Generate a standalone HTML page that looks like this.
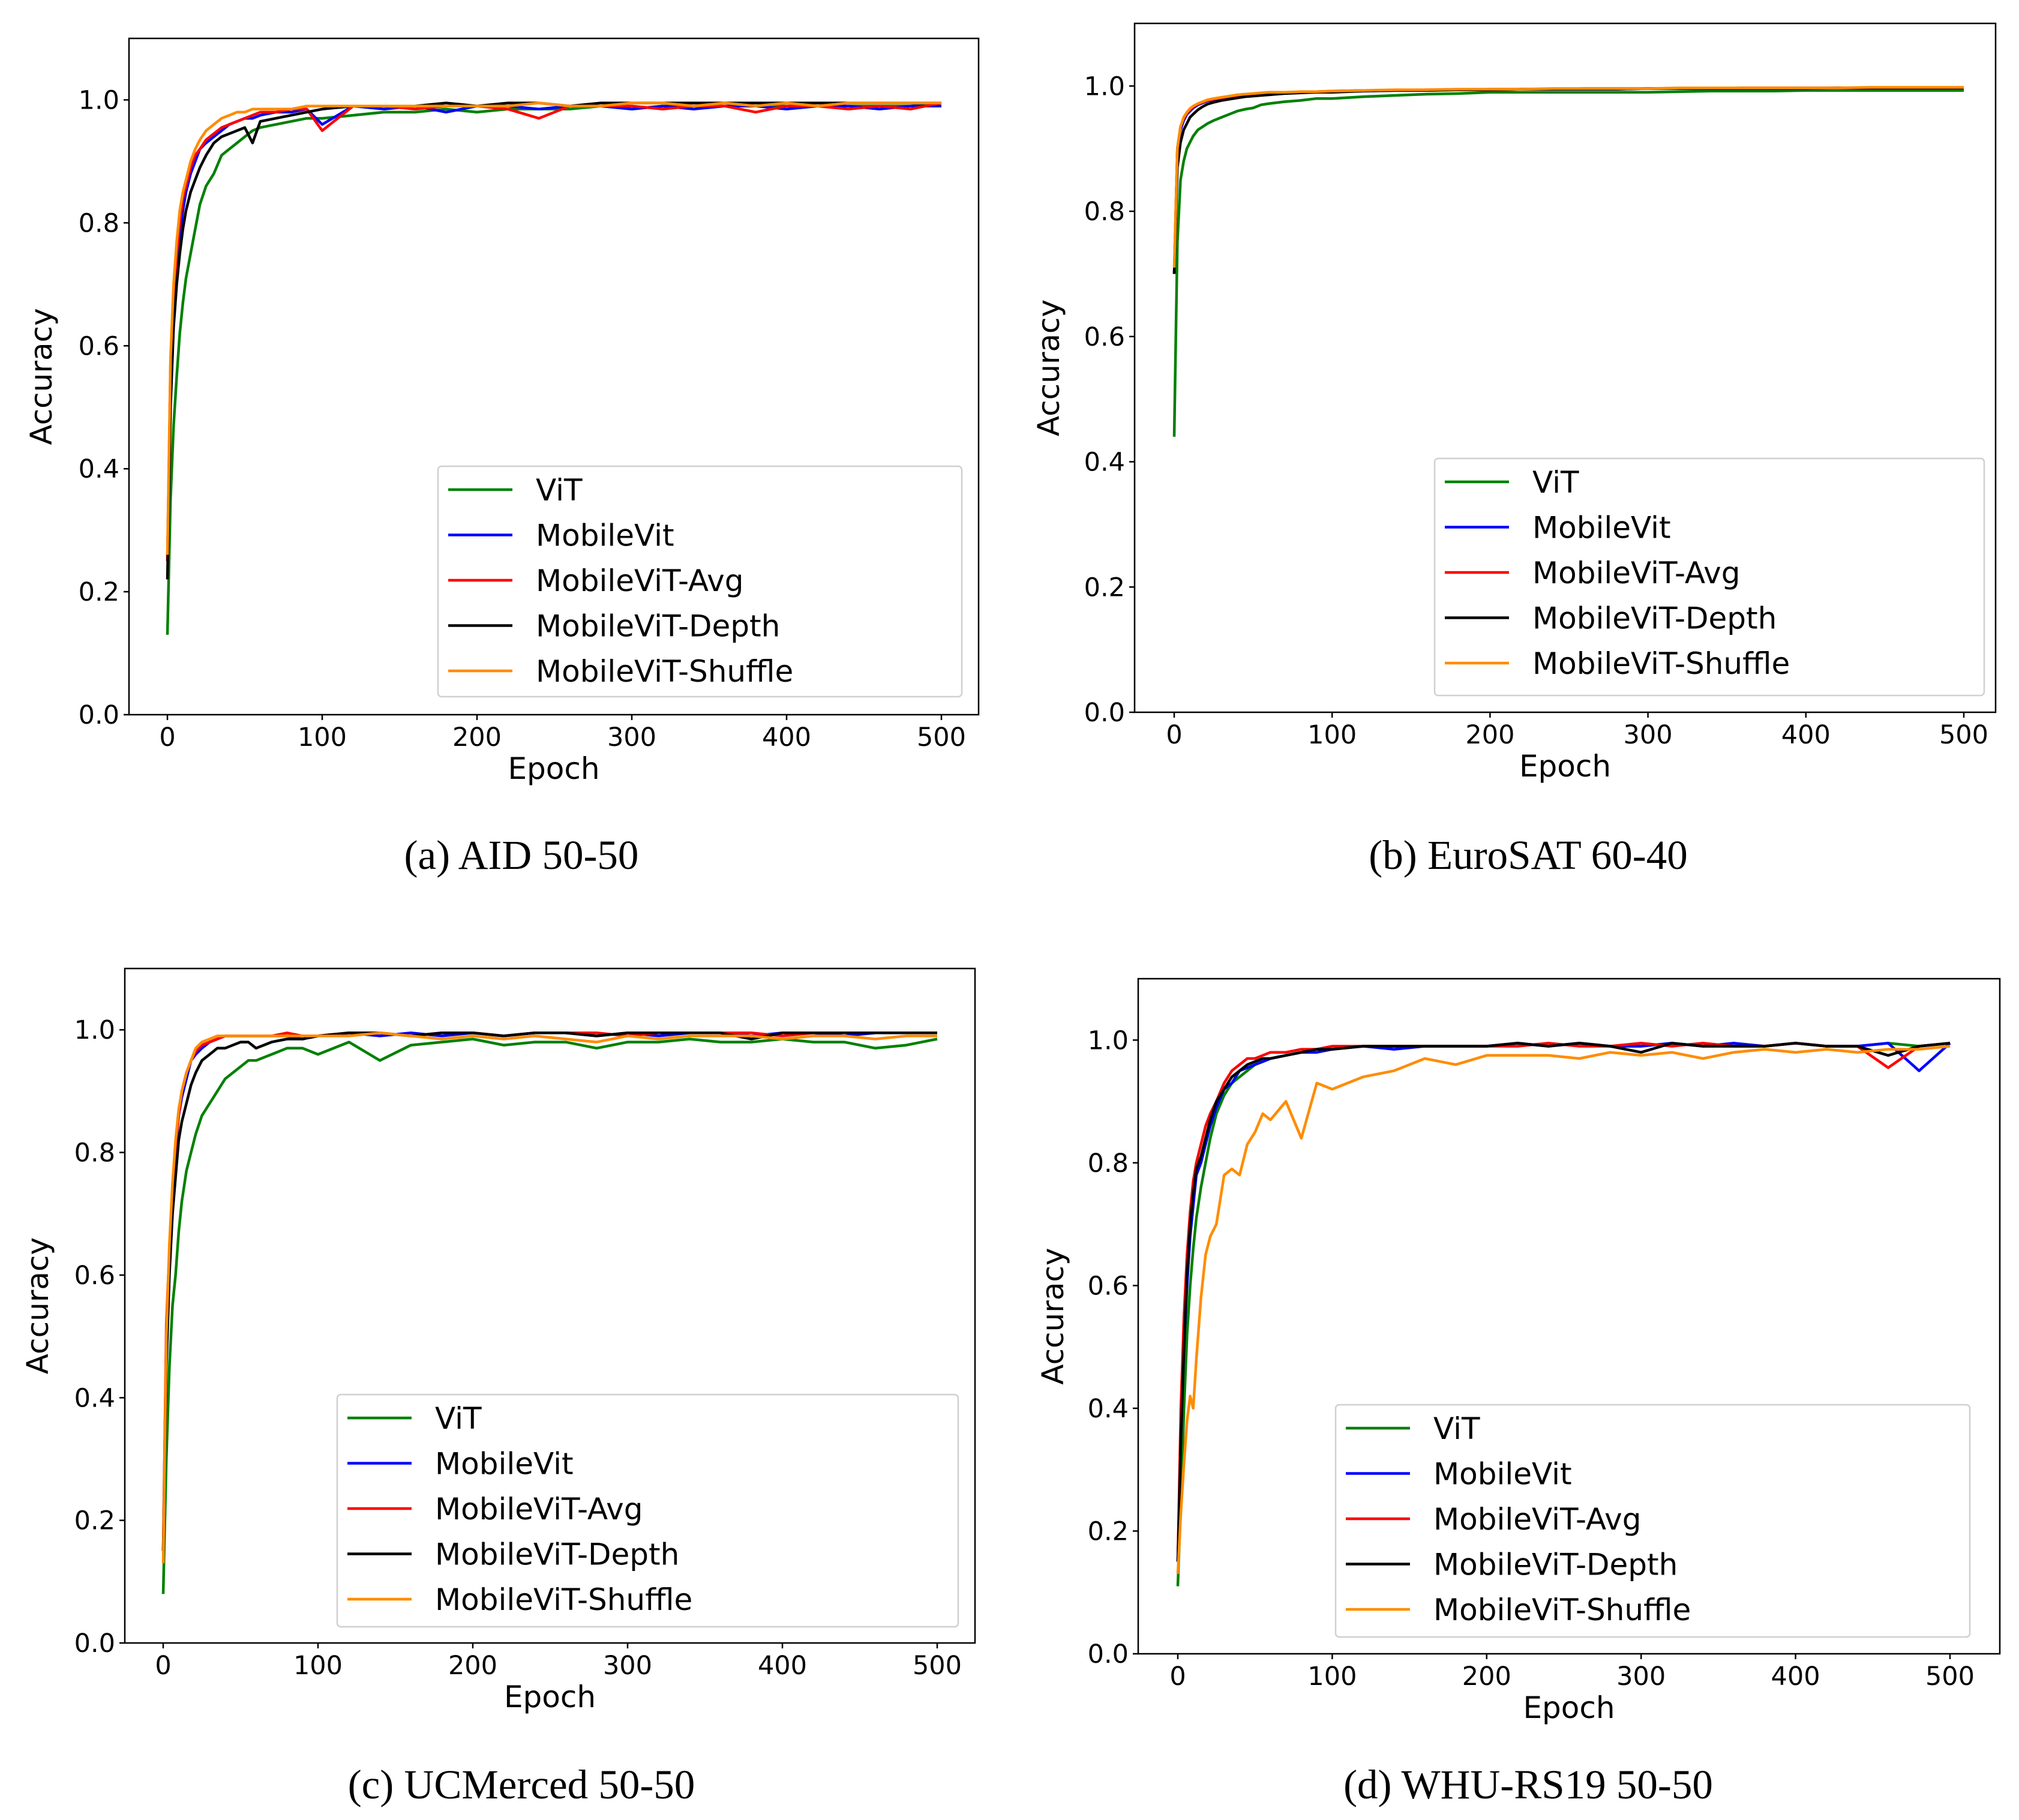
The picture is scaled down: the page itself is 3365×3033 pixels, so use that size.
<!DOCTYPE html>
<html><head><meta charset="utf-8"><style>
html,body{margin:0;padding:0;background:#fff;}
svg{display:block;}
</style></head><body>
<svg id="fig" width="3365" height="3033" viewBox="0 0 3365 3033" xmlns="http://www.w3.org/2000/svg"></svg>
<script>
const epochs = [0,2,4,6,8,10,12,15,18,21,25,30,35,40,45,50,55,60,70,80,90,100,120,140,160,180,200,220,240,260,280,300,320,340,360,380,400,420,440,460,480,500];
const seriesNames = ["ViT","MobileVit","MobileViT-Avg","MobileViT-Depth","MobileViT-Shuffle"];
const xTicks = [0,100,200,300,400,500];
const yTicks = [0.0,0.2,0.4,0.6,0.8,1.0];
const yTickLabels = ["0.0","0.2","0.4","0.6","0.8","1.0"];
const captions = ["(a)  AID 50-50","(b)  EuroSAT 60-40","(c)  UCMerced 50-50","(d)  WHU-RS19 50-50"];

const aVit = [0.13,0.35,0.47,0.55,0.62,0.67,0.71,0.75,0.79,0.83,0.86,0.88,0.91,0.92,0.93,0.94,0.95,0.955,0.96,0.965,0.97,0.97,0.975,0.98,0.98,0.985,0.98,0.985,0.985,0.985,0.99,0.985,0.99,0.99,0.99,0.99,0.99,0.99,0.99,0.99,0.99,0.995];
const aMob = [0.25,0.55,0.66,0.73,0.78,0.82,0.85,0.88,0.9,0.92,0.93,0.94,0.95,0.96,0.965,0.97,0.97,0.975,0.98,0.98,0.985,0.96,0.99,0.985,0.99,0.98,0.99,0.99,0.985,0.99,0.99,0.985,0.99,0.985,0.99,0.99,0.985,0.99,0.99,0.985,0.99,0.99];
const aAvg = [0.25,0.57,0.68,0.75,0.8,0.84,0.86,0.89,0.91,0.92,0.935,0.945,0.955,0.96,0.965,0.97,0.975,0.98,0.98,0.985,0.985,0.95,0.99,0.99,0.985,0.99,0.99,0.985,0.97,0.99,0.99,0.99,0.985,0.99,0.99,0.98,0.99,0.99,0.985,0.99,0.985,0.995];
const aDep = [0.22,0.5,0.63,0.7,0.75,0.79,0.82,0.85,0.87,0.89,0.91,0.93,0.94,0.945,0.95,0.955,0.93,0.965,0.97,0.975,0.98,0.985,0.99,0.99,0.99,0.995,0.99,0.995,0.995,0.99,0.995,0.995,0.995,0.995,0.995,0.995,0.995,0.995,0.995,0.995,0.995,0.995];
const aShu = [0.26,0.58,0.7,0.77,0.82,0.85,0.87,0.9,0.92,0.935,0.95,0.96,0.97,0.975,0.98,0.98,0.985,0.985,0.985,0.985,0.99,0.99,0.99,0.99,0.99,0.99,0.99,0.99,0.995,0.99,0.99,0.995,0.995,0.99,0.995,0.99,0.995,0.99,0.995,0.995,0.995,0.995];

const bVit = [0.44,0.75,0.85,0.88,0.9,0.91,0.92,0.93,0.935,0.94,0.945,0.95,0.955,0.96,0.963,0.965,0.97,0.972,0.975,0.977,0.98,0.98,0.983,0.985,0.987,0.988,0.99,0.99,0.99,0.99,0.99,0.99,0.991,0.992,0.992,0.992,0.993,0.993,0.993,0.993,0.993,0.993];
const bMob = [0.70,0.9,0.93,0.945,0.955,0.96,0.965,0.97,0.973,0.976,0.978,0.98,0.982,0.984,0.985,0.986,0.987,0.988,0.989,0.99,0.99,0.991,0.992,0.993,0.993,0.994,0.994,0.995,0.995,0.995,0.995,0.996,0.996,0.996,0.996,0.996,0.996,0.997,0.997,0.997,0.997,0.997];
const bAvg = [0.70,0.9,0.935,0.948,0.957,0.962,0.967,0.971,0.974,0.977,0.979,0.981,0.983,0.985,0.986,0.987,0.988,0.989,0.99,0.99,0.991,0.992,0.993,0.993,0.994,0.994,0.995,0.995,0.995,0.996,0.996,0.996,0.996,0.996,0.997,0.997,0.997,0.997,0.997,0.997,0.997,0.997];
const bDep = [0.70,0.87,0.91,0.93,0.94,0.95,0.955,0.962,0.967,0.971,0.974,0.977,0.979,0.981,0.983,0.984,0.985,0.986,0.988,0.989,0.99,0.99,0.992,0.993,0.993,0.994,0.994,0.995,0.995,0.995,0.995,0.996,0.996,0.996,0.996,0.996,0.996,0.997,0.997,0.997,0.997,0.997];
const bShu = [0.71,0.9,0.935,0.95,0.958,0.964,0.968,0.972,0.975,0.978,0.98,0.982,0.984,0.986,0.987,0.988,0.989,0.99,0.99,0.991,0.991,0.992,0.993,0.994,0.994,0.995,0.995,0.995,0.996,0.996,0.996,0.996,0.997,0.997,0.997,0.997,0.997,0.997,0.998,0.998,0.998,0.998];

const cVit = [0.08,0.3,0.45,0.55,0.6,0.67,0.72,0.77,0.8,0.83,0.86,0.88,0.9,0.92,0.93,0.94,0.95,0.95,0.96,0.97,0.97,0.96,0.98,0.95,0.975,0.98,0.985,0.975,0.98,0.98,0.97,0.98,0.98,0.985,0.98,0.98,0.985,0.98,0.98,0.97,0.975,0.985];
const cMob = [0.15,0.5,0.62,0.72,0.8,0.86,0.89,0.92,0.95,0.96,0.97,0.98,0.985,0.99,0.99,0.99,0.99,0.99,0.99,0.99,0.985,0.99,0.995,0.99,0.995,0.99,0.995,0.99,0.995,0.995,0.99,0.995,0.99,0.995,0.995,0.99,0.995,0.995,0.99,0.995,0.995,0.995];
const cAvg = [0.15,0.52,0.64,0.74,0.81,0.86,0.9,0.93,0.95,0.965,0.975,0.98,0.985,0.99,0.99,0.99,0.99,0.99,0.99,0.995,0.99,0.99,0.995,0.995,0.99,0.995,0.995,0.99,0.995,0.995,0.995,0.99,0.995,0.995,0.995,0.995,0.99,0.995,0.995,0.995,0.995,0.995];
const cDep = [0.15,0.45,0.6,0.7,0.76,0.82,0.85,0.88,0.91,0.93,0.95,0.96,0.97,0.97,0.975,0.98,0.98,0.97,0.98,0.985,0.985,0.99,0.995,0.995,0.99,0.995,0.995,0.99,0.995,0.995,0.99,0.995,0.995,0.995,0.995,0.985,0.995,0.995,0.995,0.995,0.995,0.995];
const cShu = [0.13,0.5,0.65,0.75,0.82,0.87,0.9,0.93,0.95,0.97,0.98,0.985,0.99,0.99,0.99,0.99,0.99,0.99,0.99,0.99,0.99,0.99,0.99,0.995,0.99,0.985,0.99,0.985,0.99,0.985,0.98,0.99,0.985,0.99,0.99,0.99,0.985,0.99,0.99,0.985,0.99,0.99];

const dVit = [0.11,0.25,0.4,0.52,0.6,0.66,0.71,0.76,0.8,0.84,0.88,0.91,0.93,0.94,0.95,0.96,0.965,0.97,0.975,0.98,0.985,0.985,0.99,0.99,0.99,0.99,0.99,0.995,0.99,0.995,0.99,0.99,0.995,0.99,0.99,0.99,0.995,0.99,0.99,0.995,0.99,0.995];
const dMob = [0.15,0.35,0.5,0.6,0.68,0.73,0.78,0.8,0.83,0.86,0.89,0.92,0.93,0.95,0.955,0.96,0.965,0.97,0.975,0.98,0.98,0.985,0.99,0.985,0.99,0.99,0.99,0.995,0.99,0.995,0.99,0.99,0.995,0.99,0.995,0.99,0.995,0.99,0.99,0.995,0.95,0.995];
const dAvg = [0.15,0.4,0.55,0.65,0.72,0.77,0.8,0.83,0.86,0.88,0.9,0.93,0.95,0.96,0.97,0.97,0.975,0.98,0.98,0.985,0.985,0.99,0.99,0.99,0.99,0.99,0.99,0.99,0.995,0.99,0.99,0.995,0.99,0.995,0.99,0.99,0.995,0.99,0.99,0.955,0.99,0.995];
const dDep = [0.15,0.35,0.5,0.62,0.7,0.75,0.79,0.81,0.84,0.87,0.9,0.92,0.94,0.95,0.96,0.965,0.97,0.97,0.975,0.98,0.985,0.985,0.99,0.99,0.99,0.99,0.99,0.995,0.99,0.995,0.99,0.98,0.995,0.99,0.99,0.99,0.995,0.99,0.99,0.975,0.99,0.995];
const dShu = [0.13,0.23,0.31,0.38,0.42,0.4,0.48,0.58,0.65,0.68,0.7,0.78,0.79,0.78,0.83,0.85,0.88,0.87,0.9,0.84,0.93,0.92,0.94,0.95,0.97,0.96,0.975,0.975,0.975,0.97,0.98,0.975,0.98,0.97,0.98,0.985,0.98,0.985,0.98,0.985,0.985,0.99];

const colors = ["#008000","#0000ff","#ff0000","#000000","#ff8c00"];
const panels = [
  {key:"a", series:[aVit,aMob,aAvg,aDep,aShu], box:[215,64,1631,1191], x0:279, x500:1569, leg:[730,777,1603,1161], ylab:86, cap:[869,1448]},
  {key:"b", series:[bVit,bMob,bAvg,bDep,bShu], box:[1891,39,3326,1187], x0:1957, x500:3273, leg:[2391,764,3307,1159], ylab:1765, cap:[2547,1448]},
  {key:"c", series:[cVit,cMob,cAvg,cDep,cShu], box:[208,1614,1625,2738], x0:272, x500:1562, leg:[562,2324,1597,2711], ylab:80, cap:[869,2997]},
  {key:"d", series:[dVit,dMob,dAvg,dDep,dShu], box:[1897,1631,3333,2756], x0:1963, x500:3250, leg:[2226,2341,3283,2728], ylab:1772, cap:[2547,2997]}
];
const NS = "http://www.w3.org/2000/svg";
const svg = document.getElementById("fig");
function mk(tag, attrs, parent){const e=document.createElementNS(NS,tag);for(const k in attrs)e.setAttribute(k,attrs[k]);(parent||svg).appendChild(e);return e;}
const SANS = '"DejaVu Sans","Liberation Sans",sans-serif';
panels.forEach(p=>{
  const [L,T,R,B]=p.box;
  const g=mk("g",{});
  
  
  const ymax=1.1;
  const xs=v=>p.x0+(v-0)*(p.x500-p.x0)/500;
  const ys=v=>B-v*(B-T)/ymax;
  p.series.forEach((arr,si)=>{
    let d="";
    arr.forEach((v,i)=>{d+=(i?"L":"M")+xs(epochs[i]).toFixed(1)+" "+ys(v).toFixed(1);});
    const path=mk("path",{d:d,fill:"none",stroke:colors[si],"stroke-width":4.5,"stroke-linejoin":"round"},g);
    
    
  });
  const frame=mk("rect",{x:L,y:T,width:R-L,height:B-T,fill:"none",stroke:"#000","stroke-width":2.5},g);
  
  
  xTicks.forEach(t=>{
    const x=xs(t);
    mk("line",{x1:x,y1:B,x2:x,y2:B+9,stroke:"#000","stroke-width":2.5},g);
    const tx=mk("text",{x:x,y:B+52,"font-size":43,"text-anchor":"middle","font-family":SANS},g);
    tx.textContent=String(t);
    
    
  });
  yTicks.forEach((t,i)=>{
    const y=ys(t);
    mk("line",{x1:L-9,y1:y,x2:L,y2:y,stroke:"#000","stroke-width":2.5},g);
    const ty=mk("text",{x:L-16,y:y+15,"font-size":43,"text-anchor":"end","font-family":SANS},g);
    ty.textContent=yTickLabels[i];
    
    
  });
  const xl=mk("text",{x:(L+R)/2,y:B+107,"font-size":50,"text-anchor":"middle","font-family":SANS},g);
  xl.textContent="Epoch";
  
  
  const ym=(T+B)/2;
  const yl=mk("text",{x:p.ylab,y:ym,"font-size":50,"text-anchor":"middle","font-family":SANS,transform:"rotate(-90 "+p.ylab+" "+ym+")"},g);
  yl.textContent="Accuracy";
  
  
  const [lx,ly,lr,lb]=p.leg;
  const lg=mk("g",{},g);
  
  
  mk("rect",{x:lx,y:ly,width:lr-lx,height:lb-ly,rx:6,fill:"#fff","fill-opacity":0.8,stroke:"#d0d0d0","stroke-width":2.5},lg);
  seriesNames.forEach((n,i)=>{
    const cy=ly+39+i*75.5;
    const eg=mk("g",{},lg);
    
    
    mk("line",{x1:lx+17,y1:cy,x2:lx+124,y2:cy,stroke:colors[i],"stroke-width":4.5},eg);
    const t=mk("text",{x:lx+163,y:cy+18,"font-size":50,"font-family":SANS},eg);
    t.textContent=n;
  });
  const cap=mk("text",{x:p.cap[0],y:p.cap[1],"font-size":69,"text-anchor":"middle","font-family":'"Liberation Serif",serif'},g);
  cap.textContent=captions["abcd".indexOf(p.key)];
  
  
});
</script>
</body></html>
